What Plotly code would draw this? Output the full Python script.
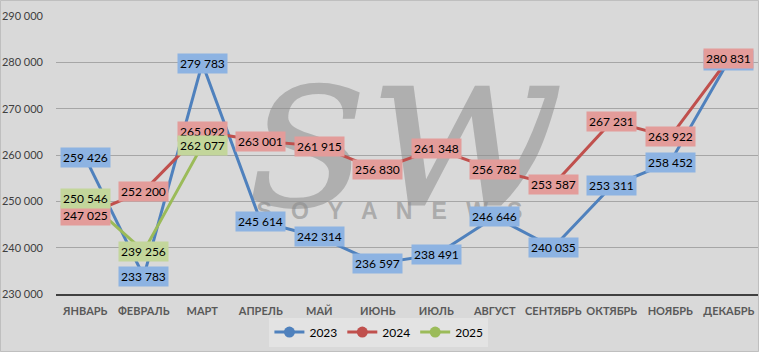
import plotly.graph_objects as go

months = ["ЯНВАРЬ", "ФЕВРАЛЬ", "МАРТ", "АПРЕЛЬ", "МАЙ", "ИЮНЬ", "ИЮЛЬ",
          "АВГУСТ", "СЕНТЯБРЬ", "ОКТЯБРЬ", "НОЯБРЬ", "ДЕКАБРЬ"]
v2023 = [259426, 233783, 279783, 245614, 242314, 236597, 238491, 246646,
         240035, 253311, 258452, 280400]
v2024 = [247025, 252200, 265092, 263001, 261915, 256830, 261348, 256782,
         253587, 267231, 263922, 280831]
v2025 = [250546, 239256, 262077]
yticks = [230000, 240000, 250000, 260000, 270000, 280000, 290000]

series = [
    ("2023", v2023, "#4f81bd", "#8db3e2"),
    ("2024", v2024, "#c0504d", "#e39c9a"),
    ("2025", v2025, "#9bbb59", "#c3d69b"),
]

def fmt(v):
    return f"{v:,}".replace(",", " ")

xidx = list(range(len(months)))
fig = go.Figure()

# watermark (behind data)
fig.add_trace(go.Scatter(
    x=[5.5], y=[261500], mode="text", text=["sw"], showlegend=False,
    hoverinfo="skip",
    textfont=dict(family="DejaVu Serif", size=230, color="rgba(140,140,140,0.55)",
                  style="italic"),
))
fig.add_trace(go.Scatter(
    x=[5.2], y=[247400], mode="text", text=["S   O   Y   A   N   E   W   S"],
    showlegend=False, hoverinfo="skip",
    textfont=dict(family="Liberation Sans", size=23, color="rgba(140,140,140,0.6)",
                  weight="bold"),
))

for name, vals, col, box in series:
    fig.add_trace(go.Scatter(
        x=xidx[:len(vals)], y=vals, mode="lines+markers", name=name,
        line=dict(color=col, width=3),
        marker=dict(color=col, size=11),
    ))

for name, vals, col, box in series:
    for i, v in enumerate(vals):
        fig.add_annotation(
            x=xidx[i], y=v, text=fmt(v), showarrow=False,
            bgcolor=box, borderpad=2,
            font=dict(family="Lato", size=12, color="#000000"),
        )

fig.update_layout(
    width=759, height=352,
    margin=dict(l=56, r=1, t=16, b=58, autoexpand=False),
    paper_bgcolor="#d9d9d9", plot_bgcolor="#d9d9d9",
    font=dict(family="Lato", size=11, color="#595959"),
    legend=dict(orientation="h", x=0.46, xanchor="center", y=-0.137, yanchor="middle",
                bgcolor="#e3e3e3", font=dict(size=12, color="#000000"),
                itemwidth=30, tracegroupgap=0),
    shapes=[dict(type="rect", xref="paper", yref="paper",
                 x0=-56/702 + 0.0007, x1=1 + 0.0007, y0=-58/278 + 0.0018, y1=1 + 16/278 - 0.0018,
                 line=dict(color="#bfbfbf", width=1))],
)
fig.update_xaxes(
    range=[-0.5, 11.5], tickvals=xidx, ticktext=months, showgrid=False,
    showline=True, linecolor="#404040", linewidth=2, ticks="",
    tickfont=dict(size=11, color="#595959", family="Lato", weight="bold"),
    zeroline=False, ticklabelstandoff=6,
)
fig.update_yaxes(
    range=[230000, 290000], tickvals=yticks, ticktext=[fmt(t) for t in yticks],
    showgrid=True, gridcolor="#a6a6a6", gridwidth=1, zeroline=False,
    tickfont=dict(size=11, color="#404040", family="Lato"),
    ticklabelstandoff=12,
)
fig.write_html("out.html")
